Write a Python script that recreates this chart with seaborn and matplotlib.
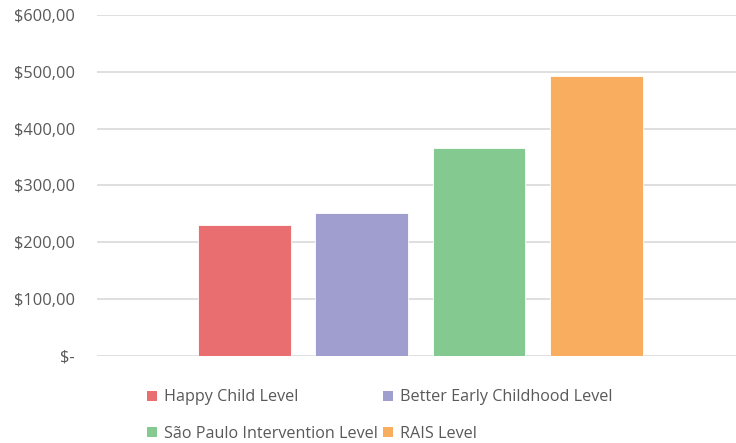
import matplotlib
matplotlib.use("Agg")
import matplotlib.pyplot as plt
import seaborn as sns
import pandas as pd
from matplotlib.patches import Patch
from matplotlib.ticker import FuncFormatter

series = ["Happy Child Level", "Better Early Childhood Level",
          "São Paulo Intervention Level", "RAIS Level"]
values = [230, 252, 365, 492]
colors = ["#E96E70", "#A09ECE", "#84CA90", "#F8AE5E"]
yticks = [0, 100, 200, 300, 400, 500, 600]

sns.set_theme(style="white")
plt.rcParams["font.family"] = ["Open Sans", "DejaVu Sans"]

df = pd.DataFrame({"Series": series, "Value": values})

fig = plt.figure(figsize=(7.36, 4.43), dpi=100)
ax = fig.add_axes([97/736, 87.3/443, 1 - 97/736, (355.7 - 15) / 443])

sns.barplot(data=df, x="Series", y="Value", hue="Series", palette=colors,
            width=0.79, legend=False, ax=ax, saturation=1, edgecolor="white",
            linewidth=0.6)

ax.set_ylim(0, 600)
ax.set_xlim(-1.257, 4.19)
ax.set_yticks(yticks)
ax.yaxis.set_major_formatter(FuncFormatter(
    lambda v, p: "$-" if v == 0 else "${:,.2f}".format(v).replace(".", ",")))
ax.grid(axis="y", color="#d9d9d9", linewidth=1.2)
ax.set_axisbelow(True)
for s in ax.spines.values():
    s.set_visible(False)
ax.set_xticks([])
ax.set_xlabel("")
ax.set_ylabel("")
ax.tick_params(axis="y", length=0, pad=16, labelsize=11.8, labelcolor="#595959")

handles = [Patch(facecolor=c, edgecolor="none") for c in colors]
order = [0, 2, 1, 3]
fig.legend([handles[i] for i in order], [series[i] for i in order],
           loc="upper left", bbox_to_anchor=(141/736, 1 - 383/443), ncol=2,
           frameon=False, fontsize=11.6, labelcolor="#595959",
           handlelength=0.6, handleheight=0.6, handletextpad=0.45,
           columnspacing=0.3, labelspacing=1.25, borderaxespad=0)

fig.savefig("out.png", dpi=100)
